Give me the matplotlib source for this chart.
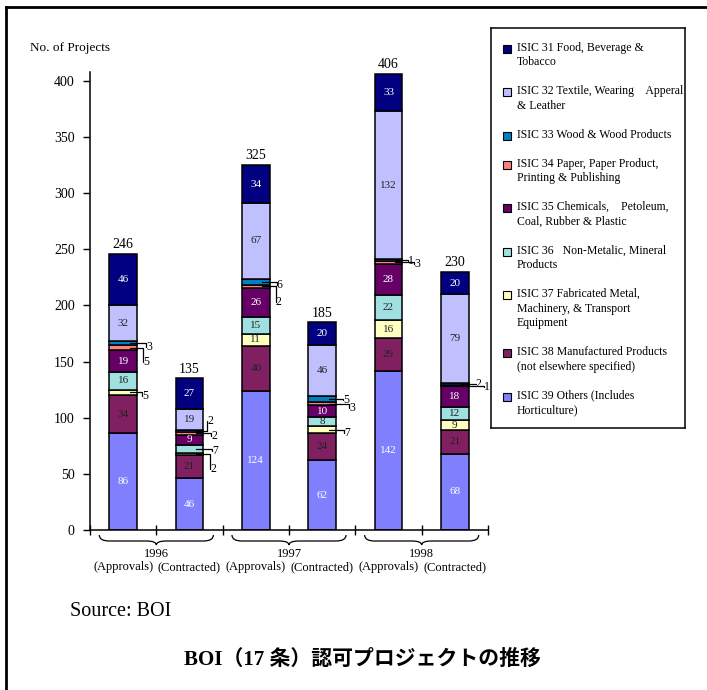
import matplotlib
matplotlib.use('Agg')
import matplotlib.pyplot as plt
import numpy as np
from matplotlib.path import Path
from matplotlib.patches import PathPatch, Rectangle
from matplotlib.lines import Line2D
import matplotlib.transforms as mtransforms

plt.rcParams['font.family'] = ['Liberation Serif', 'Noto Sans CJK JP']

# ---------------- data ----------------
years = ['1996', '1997', '1998']
stages = ['(Approvals)', '(Contracted)']
totals = [246, 135, 325, 185, 406, 230]

# segments, bottom to top
isic39 = [86, 46, 124, 62, 142, 68]
isic38 = [34, 21, 40, 24, 29, 21]
isic37 = [5, 2, 11, 7, 16, 9]
isic36 = [16, 7, 15, 8, 22, 12]
isic35 = [19, 9, 26, 10, 28, 18]
isic34 = [5, 2, 2, 3, 3, 1]
isic33 = [3, 2, 6, 5, 1, 2]
isic32 = [32, 19, 67, 46, 132, 79]
isic31 = [46, 27, 34, 20, 33, 20]

codes = ['39', '38', '37', '36', '35', '34', '33', '32', '31']
series = [isic39, isic38, isic37, isic36, isic35, isic34, isic33, isic32, isic31]

legend_labels = {
    '31': 'ISIC 31 Food, Beverage &\nTobacco',
    '32': 'ISIC 32 Textile, Wearing    Apperal\n& Leather',
    '33': 'ISIC 33 Wood & Wood Products',
    '34': 'ISIC 34 Paper, Paper Product,\nPrinting & Publishing',
    '35': 'ISIC 35 Chemicals,    Petoleum,\nCoal, Rubber & Plastic',
    '36': 'ISIC 36   Non-Metalic, Mineral\nProducts',
    '37': 'ISIC 37 Fabricated Metal,\nMachinery, & Transport\nEquipment',
    '38': 'ISIC 38 Manufactured Products\n(not elsewhere specified)',
    '39': 'ISIC 39 Others (Includes\nHorticulture)',
}

# ---------------- styles ----------------
colors = {
    '31': '#000080', '32': '#C0C0FF', '33': '#0080C0', '34': '#FF8080',
    '35': '#660066', '36': '#A0E0E0', '37': '#FFFFC0', '38': '#802060',
    '39': '#8080FF',
}
text_colors = {
    '31': 'white', '32': '#222222', '33': 'black', '34': 'black',
    '35': 'white', '36': '#222222', '37': '#222222', '38': '#222222',
    '39': 'white',
}
# outside-label placement for small segments: (bar index, code) -> (dx px right of bar edge, dy in value units)
small_offsets = {
    (0, '33'): (9, -3.5), (0, '34'): (6, -12.5), (0, '37'): (5, -3),
    (1, '33'): (4, 9), (1, '34'): (8, -2.5), (1, '36'): (9, -2.3), (1, '37'): (7, -14),
    (2, '33'): (7, -3), (2, '34'): (6, -14),
    (3, '33'): (7, -1), (3, '34'): (13, -3.5), (3, '37'): (8, -3.5),
    (4, '33'): (6, -0.5), (4, '34'): (12, -1.5),
    (5, '33'): (7, 0), (5, '34'): (15, -1.5),
}

W, H = 707, 690
fig = plt.figure(figsize=(W / 100, H / 100), dpi=100)

def fx(px):
    return px / W

def fy(py):
    return 1 - py / H

ax_l, ax_r, ax_t, ax_b = 90, 488, 72, 530
ax = fig.add_axes([fx(ax_l), fy(ax_b), fx(ax_r - ax_l), (ax_b - ax_t) / H])

x = np.arange(len(totals))
width = 0.42
px_per_unit_x = (ax_r - ax_l) / 6.0

bottom = np.zeros(len(totals))
for code, vals in zip(codes, series):
    vals = np.array(vals, dtype=float)
    ax.bar(x, vals, width, bottom=bottom, color=colors[code],
           edgecolor='black', linewidth=1.1, zorder=2)
    for i, v in enumerate(vals):
        mid = bottom[i] + v / 2
        if v >= 8:
            ax.text(x[i], mid, f'{int(v)}', ha='center', va='center',
                    fontsize=8, color=text_colors[code], zorder=3)
        elif (i, code) in small_offsets:
            dx, dy = small_offsets[(i, code)]
            tx = x[i] + width / 2 + dx / px_per_unit_x
            ax.annotate(f'{int(v)}', xy=(x[i] + 0.1, mid), xytext=(tx, mid + dy),
                        textcoords='data', ha='left', va='center', fontsize=8.5,
                        annotation_clip=False, zorder=4,
                        arrowprops=dict(arrowstyle='-', lw=0.9, color='black',
                                        connectionstyle='angle,angleA=90,angleB=0,rad=0',
                                        relpos=(0, 0.5), shrinkA=0, shrinkB=0,
                                        patchA=None))
    bottom += vals

for i, t in enumerate(totals):
    ax.annotate(str(t), xy=(x[i], t), xytext=(0, 2), textcoords='offset points',
                ha='center', va='bottom', fontsize=10)

ax.set_xlim(-0.5, 5.5)
ax.set_ylim(0, 408)
ax.set_yticks(np.arange(0, 401, 50))
ax.set_xticks(np.arange(-0.5, 5.6, 1.0))
ax.set_xticklabels([])
ax.tick_params(axis='y', direction='out', length=5, width=1, labelsize=10, pad=6)
ax.tick_params(axis='x', direction='inout', length=7, width=1)
for s in ['top', 'right']:
    ax.spines[s].set_visible(False)
for s in ['left', 'bottom']:
    ax.spines[s].set_linewidth(1.1)

# braces and x labels
trans = mtransforms.blended_transform_factory(ax.transData, ax.transAxes)
axh = ax_b - ax_t
yt, ym, yb = -5 / axh, -11 / axh, -15 / axh
r = 0.15
for g, yr in enumerate(years):
    x0, x1, xc = 2 * g - 0.36, 2 * g + 1.36, 2 * g + 0.5
    verts = [(x0, yt), (x0, ym), (x0 + r, ym), (xc - r, ym), (xc, ym), (xc, yb),
             (xc, ym), (xc + r, ym), (x1 - r, ym), (x1, ym), (x1, yt)]
    pc = [Path.MOVETO, Path.CURVE3, Path.CURVE3, Path.LINETO, Path.CURVE3, Path.CURVE3,
          Path.CURVE3, Path.CURVE3, Path.LINETO, Path.CURVE3, Path.CURVE3]
    ax.add_patch(PathPatch(Path(verts, pc), transform=trans, fill=False,
                           lw=0.9, edgecolor='black', clip_on=False))
    ax.text(xc, -24 / axh, yr, transform=trans, ha='center', va='center', fontsize=9)
    for k, st in enumerate(stages):
        ax.text(2 * g + k, -37 / axh, st, transform=trans, ha='center',
                va='center', fontsize=9)

fig.text(fx(30), fy(48), 'No. of Projects', ha='left', va='center', fontsize=9.5)

# legend box (manual)
lg_l, lg_t, lg_r, lg_b = 491, 28, 685, 428
lax = fig.add_axes([fx(lg_l), fy(lg_b), fx(lg_r - lg_l), (lg_b - lg_t) / H])
lax.set_xlim(0, lg_r - lg_l)
lax.set_ylim(lg_b - lg_t, 0)
lax.set_xticks([])
lax.set_yticks([])
for s in lax.spines.values():
    s.set_linewidth(1.1)
line_h = 14.5
y_cur = 20.5
for code in ['31', '32', '33', '34', '35', '36', '37', '38', '39']:
    lab = legend_labels[code]
    n = lab.count('\n') + 1
    lax.add_patch(Rectangle((12, y_cur - 4), 8, 8, facecolor=colors[code],
                            edgecolor='black', lw=0.8))
    lax.text(26, y_cur - 7, lab, ha='left', va='top', fontsize=8.5,
             linespacing=1.3)
    y_cur += (n + 1) * line_h

fig.text(fx(70), fy(612), 'Source: BOI', ha='left', va='center', fontsize=14.5)
fig.text(fx(362), fy(660), 'BOI（17 条）認可プロジェクトの推移', ha='center', va='center',
         fontsize=15, fontweight='bold')

# outer frame (top and left edges visible)
fig.add_artist(Line2D([fx(6), 1.0], [fy(7), fy(7)], lw=2, color='black'))
fig.add_artist(Line2D([fx(6), fx(6)], [fy(7), 0], lw=2, color='black'))

fig.savefig('out.png', dpi=100)
